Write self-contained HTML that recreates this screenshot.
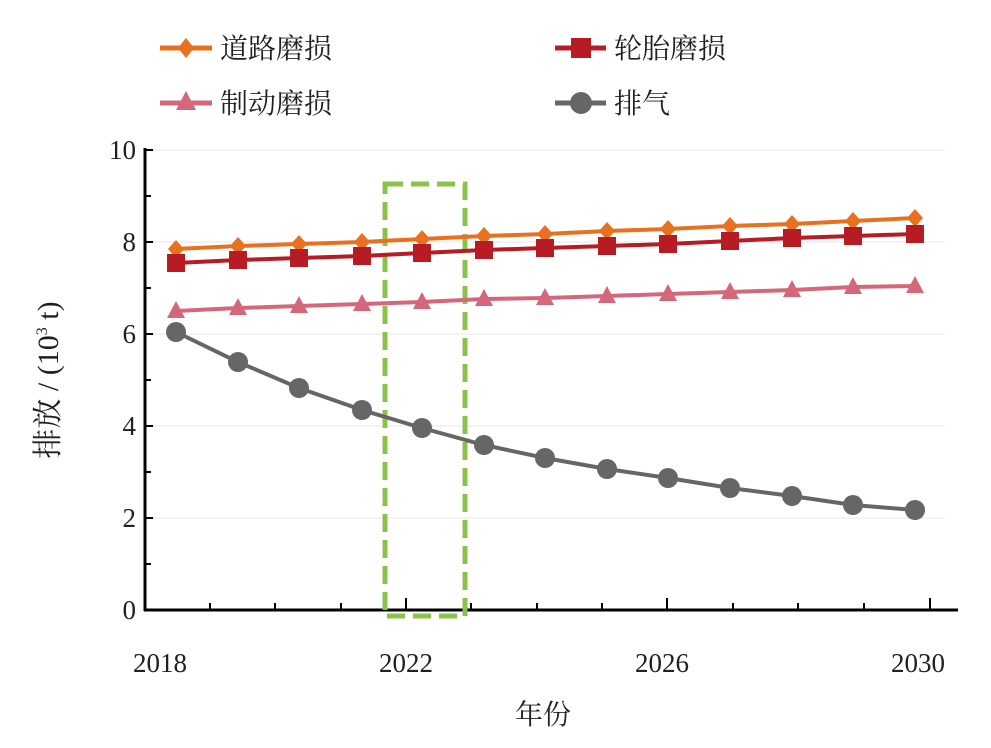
<!DOCTYPE html>
<html><head><meta charset="utf-8"><style>
body{margin:0;background:#fff}
svg text{font-family:"Liberation Serif","Noto Serif CJK SC",serif;fill:#231f20}
.cn{font-family:"Liberation Serif","Noto Serif CJK SC",serif}
</style></head><body>
<svg width="991" height="743" xmlns="http://www.w3.org/2000/svg">
<g stroke="#e6e6e6" stroke-width="1">
<line x1="145" y1="150" x2="945" y2="150"/><line x1="145" y1="242" x2="945" y2="242"/>
<line x1="145" y1="334" x2="945" y2="334"/><line x1="145" y1="426" x2="945" y2="426"/>
<line x1="145" y1="518" x2="945" y2="518"/>
</g>
<g stroke="#000" stroke-width="3">
<line x1="145" y1="148" x2="145" y2="611"/><line x1="144" y1="610" x2="958" y2="610"/>
</g>
<g stroke="#000" stroke-width="2">
<line x1="145" y1="150" x2="153" y2="150"/><line x1="145" y1="196" x2="151" y2="196"/>
<line x1="145" y1="242" x2="153" y2="242"/><line x1="145" y1="288" x2="151" y2="288"/>
<line x1="145" y1="334" x2="153" y2="334"/><line x1="145" y1="380" x2="151" y2="380"/>
<line x1="145" y1="426" x2="153" y2="426"/><line x1="145" y1="472" x2="151" y2="472"/>
<line x1="145" y1="518" x2="153" y2="518"/><line x1="145" y1="564" x2="151" y2="564"/>
<line x1="210" y1="603" x2="210" y2="610"/><line x1="275" y1="603" x2="275" y2="610"/>
<line x1="341" y1="603" x2="341" y2="610"/><line x1="406" y1="598" x2="406" y2="610"/>
<line x1="471" y1="603" x2="471" y2="610"/><line x1="537" y1="603" x2="537" y2="610"/>
<line x1="602" y1="603" x2="602" y2="610"/><line x1="667" y1="598" x2="667" y2="610"/>
<line x1="733" y1="603" x2="733" y2="610"/><line x1="798" y1="603" x2="798" y2="610"/>
<line x1="864" y1="603" x2="864" y2="610"/><line x1="930" y1="598" x2="930" y2="610"/>
</g>
<g font-size="27" text-anchor="end">
<text x="136" y="159">10</text><text x="136" y="251">8</text><text x="136" y="343">6</text>
<text x="136" y="435">4</text><text x="136" y="527">2</text><text x="136" y="619">0</text>
</g>
<g font-size="27" text-anchor="middle">
<text x="160" y="672">2018</text><text x="406" y="672">2022</text>
<text x="662" y="672">2026</text><text x="918" y="672">2030</text>
</g>
<text x="543" y="724" font-size="28" text-anchor="middle" class="cn">年份</text>
<text transform="translate(58,380) rotate(-90)" font-size="30" text-anchor="middle"><tspan class="cn">排放</tspan> / (10<tspan font-size="16" dy="-11">3</tspan><tspan dy="11"> t)</tspan></text>

<rect x="385" y="184" width="80" height="432" fill="none" stroke="#8bc34a" stroke-width="5" stroke-dasharray="18,8"/>

<polyline fill="none" stroke="#e8701f" stroke-width="4" points="176,249 238,246 299,244 362,242 422,239 484,236 545,234 607,231 668,229 730,226 792,224 853,221 915,218"/>
<g fill="#e8701f">
<path d="M176,240 l8,9 l-8,9 l-8,-9z M238,237 l8,9 l-8,9 l-8,-9z M299,235 l8,9 l-8,9 l-8,-9z M362,233 l8,9 l-8,9 l-8,-9z M422,230 l8,9 l-8,9 l-8,-9z M484,227 l8,9 l-8,9 l-8,-9z M545,225 l8,9 l-8,9 l-8,-9z M607,222 l8,9 l-8,9 l-8,-9z M668,220 l8,9 l-8,9 l-8,-9z M730,217 l8,9 l-8,9 l-8,-9z M792,215 l8,9 l-8,9 l-8,-9z M853,212 l8,9 l-8,9 l-8,-9z M915,209 l8,9 l-8,9 l-8,-9z"/>
</g>
<polyline fill="none" stroke="#b71c25" stroke-width="4" points="176,263 238,260 299,258 362,256 422,253 484,250 545,248 607,246 668,244 730,241 792,238 853,236 915,234"/>
<g fill="#b71c25">
<rect x="167" y="254" width="18" height="18"/><rect x="229" y="251" width="18" height="18"/><rect x="290" y="249" width="18" height="18"/><rect x="353" y="247" width="18" height="18"/><rect x="413" y="244" width="18" height="18"/><rect x="475" y="241" width="18" height="18"/><rect x="536" y="239" width="18" height="18"/><rect x="598" y="237" width="18" height="18"/><rect x="659" y="235" width="18" height="18"/><rect x="721" y="232" width="18" height="18"/><rect x="783" y="229" width="18" height="18"/><rect x="844" y="227" width="18" height="18"/><rect x="906" y="225" width="18" height="18"/>
</g>
<polyline fill="none" stroke="#d4687a" stroke-width="4" points="176,311 238,308 299,306 362,304 422,302 484,299 545,298 607,296 668,294 730,292 792,290 853,287 915,286"/>
<g fill="#d4687a">
<path d="M176,301 l9,17 h-18z M238,298 l9,17 h-18z M299,296 l9,17 h-18z M362,294 l9,17 h-18z M422,292 l9,17 h-18z M484,289 l9,17 h-18z M545,288 l9,17 h-18z M607,286 l9,17 h-18z M668,284 l9,17 h-18z M730,282 l9,17 h-18z M792,280 l9,17 h-18z M853,277 l9,17 h-18z M915,276 l9,17 h-18z"/>
</g>
<polyline fill="none" stroke="#666" stroke-width="4" points="176,332 238,362 299,388 362,410 422,428 484,445 545,458 607,469 668,478 730,488 792,496 853,505 915,510"/>
<g fill="#666">
<circle cx="176" cy="332" r="10"/><circle cx="238" cy="362" r="10"/><circle cx="299" cy="388" r="10"/><circle cx="362" cy="410" r="10"/><circle cx="422" cy="428" r="10"/><circle cx="484" cy="445" r="10"/><circle cx="545" cy="458" r="10"/><circle cx="607" cy="469" r="10"/><circle cx="668" cy="478" r="10"/><circle cx="730" cy="488" r="10"/><circle cx="792" cy="496" r="10"/><circle cx="853" cy="505" r="10"/><circle cx="915" cy="510" r="10"/>
</g>
<g font-size="28">
<line x1="160" y1="48" x2="212" y2="48" stroke="#e8701f" stroke-width="5"/>
<path d="M186,38 l8,10 l-8,10 l-8,-10z" fill="#e8701f"/>
<text x="220" y="58" class="cn">道路磨损</text>
<line x1="555" y1="48" x2="606" y2="48" stroke="#b71c25" stroke-width="5"/>
<rect x="571" y="38" width="20" height="20" fill="#b71c25"/>
<text x="614" y="58" class="cn">轮胎磨损</text>
<line x1="160" y1="103" x2="212" y2="103" stroke="#d4687a" stroke-width="5"/>
<path d="M186,91 l10,19 h-20z" fill="#d4687a"/>
<text x="220" y="113" class="cn">制动磨损</text>
<line x1="555" y1="103" x2="606" y2="103" stroke="#666" stroke-width="5"/>
<circle cx="581" cy="103" r="11" fill="#666"/>
<text x="614" y="113" class="cn">排气</text>
</g>
</svg>
</body></html>
